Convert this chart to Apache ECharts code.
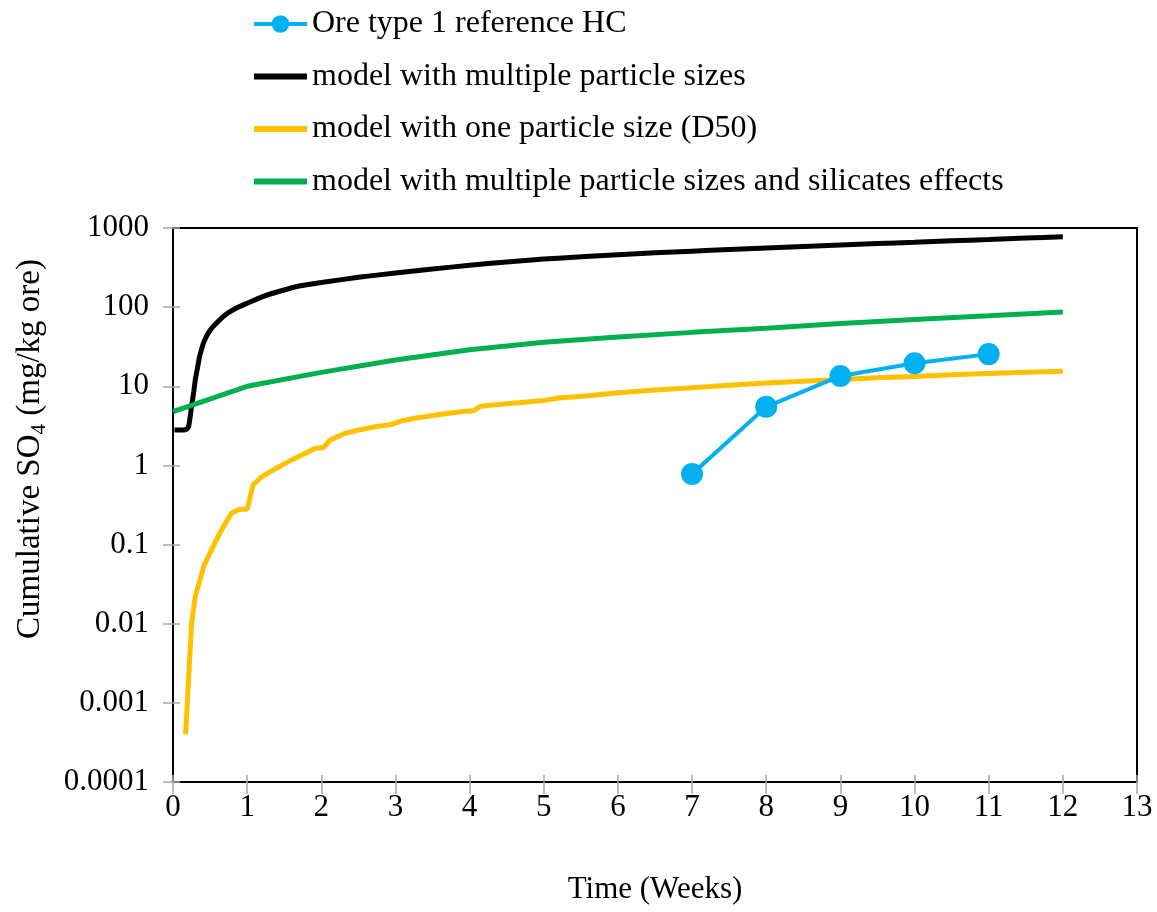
<!DOCTYPE html>
<html>
<head>
<meta charset="utf-8">
<title>Cumulative SO4</title>
<script src="https://cdn.jsdelivr.net/npm/echarts@6/dist/echarts.min.js"></script>
<style>
  html, body { margin: 0; padding: 0; background: #fff; }
  #chart { width: 1157px; height: 912px; }
</style>
</head>
<body>
<div id="chart"></div>
<script>
// Measured leachate: ore type 1 reference humidity cell
const oreWeeks = [7, 8, 9, 10, 11];
const oreValues = [0.78, 5.5, 13.5, 19.5, 25.5];

// Model with multiple particle sizes
const multiWeeks = [0.02, 0.14, 0.19, 0.21, 0.23, 0.25, 0.28, 0.3, 0.33, 0.36, 0.42, 0.5, 0.6, 0.72, 0.85, 1.0, 1.2, 1.45, 1.7, 2.0, 2.5, 3.0, 3.5, 4.0, 4.5, 5.0, 5.5, 6.0, 6.5, 7.0, 7.5, 8.0, 8.5, 9.0, 9.5, 10.0, 10.5, 11.0, 11.5, 12.0];
const multiValues = [2.8, 2.8, 2.9, 3.1, 4.0, 5.6, 8.5, 12, 17, 24, 37, 51, 65, 82, 97, 112, 135, 160, 185, 205, 238, 270, 303, 338, 372, 405, 432, 460, 485, 510, 535, 560, 585, 610, 635, 660, 690, 715, 745, 775];

// Model with one particle size (D50)
const d50Weeks = [0.17, 0.21, 0.25, 0.3, 0.34, 0.42, 0.54, 0.65, 0.79, 0.9, 1.0, 1.08, 1.2, 1.4, 1.62, 1.8, 1.92, 2.03, 2.12, 2.3, 2.5, 2.75, 2.95, 3.1, 3.3, 3.6, 3.9, 4.05, 4.15, 4.5, 5.0, 5.2, 5.6, 6.0, 6.5, 7.0, 7.5, 8.0, 8.5, 9.0, 9.5, 10.0, 10.5, 11.0, 11.5, 12.0];
const d50Values = [0.0004, 0.002, 0.01, 0.022, 0.03, 0.055, 0.094, 0.15, 0.25, 0.28, 0.28, 0.57, 0.72, 0.93, 1.2, 1.45, 1.65, 1.68, 2.1, 2.5, 2.8, 3.1, 3.3, 3.7, 4.0, 4.4, 4.8, 4.9, 5.6, 6.0, 6.6, 7.1, 7.6, 8.3, 9.0, 9.6, 10.3, 11.0, 11.6, 12.2, 12.8, 13.3, 14.0, 14.5, 15.0, 15.5];

// Model with multiple particle sizes and silicates effects
const silWeeks = [0, 1, 2, 3, 4, 5, 6, 7, 8, 9, 10, 11, 12];
const silValues = [4.8, 10, 15, 21.5, 29, 36, 42, 48, 54, 62, 70, 78, 87];

// Axis tick labels (log decades from 0.0001 to 1000)
const yTickLabels = ['0.0001', '0.001', '0.01', '0.1', '1', '10', '100', '1000'];

const seriesNames = [
  'Ore type 1 reference HC',
  'model with multiple particle sizes',
  'model with one particle size (D50)',
  'model with multiple particle sizes and silicates effects'
];

const pairs = (xs, ys) => xs.map((x, i) => [x, ys[i]]);

const FONT = '"Liberation Serif", "DejaVu Serif", serif';
const chart = echarts.init(document.getElementById('chart'), null, { renderer: 'canvas' });

const tickColor = '#a6a6a6';
const yLabel = v => {
  const k = Math.round(Math.log10(v)) + 4;
  return yTickLabels[k] !== undefined ? yTickLabels[k] : '';
};

// plain thick bar used as the legend key of the model curves
const barIcon = 'path://M0,0H53V6H0Z';

chart.setOption({
  backgroundColor: '#fff',
  animation: false,
  textStyle: { fontFamily: FONT, color: '#000' },
  legend: {
    orient: 'vertical',
    left: 252,
    top: 8,
    padding: 0,
    itemWidth: 53,
    itemHeight: 22,
    itemGap: 20.5,
    symbolKeepAspect: true,
    data: [
      { name: seriesNames[0], lineStyle: { width: 4 } },
      { name: seriesNames[1], icon: barIcon },
      { name: seriesNames[2], icon: barIcon },
      { name: seriesNames[3], icon: barIcon }
    ],
    textStyle: { fontFamily: FONT, fontSize: 32, color: '#000', lineHeight: 32 }
  },
  grid: {
    left: 173, top: 228, right: 20, bottom: 130,
    show: true, borderColor: '#000', borderWidth: 2, backgroundColor: 'transparent'
  },
  xAxis: [{
    type: 'value', min: 0, max: 13, interval: 1,
    name: 'Time (Weeks)', nameLocation: 'middle', nameGap: 92,
    nameTextStyle: { fontFamily: FONT, fontSize: 31, color: '#000' },
    axisLine: { show: true, onZero: false, lineStyle: { color: '#000', width: 2 } },
    axisTick: { show: true, inside: false, length: 12, lineStyle: { color: tickColor, width: 1.5 } },
    axisLabel: { fontFamily: FONT, fontSize: 31, color: '#000', margin: 10 },
    splitLine: { show: false }
  }, {
    type: 'value', min: 0, max: 13, interval: 1, position: 'bottom',
    axisLine: { show: false },
    axisTick: { show: true, inside: true, length: 7, lineStyle: { color: tickColor, width: 1.5 } },
    axisLabel: { show: false },
    splitLine: { show: false }
  }],
  yAxis: [{
    type: 'log', logBase: 10, min: 0.0001, max: 1000,
    axisLine: { show: true, onZero: false, lineStyle: { color: '#000', width: 2 } },
    axisTick: { show: true, inside: false, length: 10, lineStyle: { color: tickColor, width: 1.5 } },
    axisLabel: { fontFamily: FONT, fontSize: 31, color: '#000', margin: 24, formatter: yLabel },
    splitLine: { show: false },
    minorTick: { show: false }
  }, {
    type: 'log', logBase: 10, min: 0.0001, max: 1000, position: 'left',
    axisLine: { show: false },
    axisTick: { show: true, inside: true, length: 7, lineStyle: { color: tickColor, width: 1.5 } },
    axisLabel: { show: false },
    splitLine: { show: false }
  }],
  graphic: [{
    type: 'text',
    x: 30, y: 449,
    rotation: Math.PI / 2,
    style: {
      text: '{a|Cumulative SO}{s|4}{a| (mg/kg ore)}',
      align: 'center',
      verticalAlign: 'middle',
      rich: {
        a: { fontFamily: FONT, fontSize: 33, fill: '#000' },
        s: { fontFamily: FONT, fontSize: 21, fill: '#000', padding: [18, 0, 0, 0] }
      }
    }
  }],
  series: [{
    name: seriesNames[1], type: 'line', data: pairs(multiWeeks, multiValues),
    smooth: 0.2, showSymbol: false, symbol: 'none',
    lineStyle: { color: '#000', width: 5 }, itemStyle: { color: '#000' }, z: 3
  }, {
    name: seriesNames[2], type: 'line', data: pairs(d50Weeks, d50Values),
    showSymbol: false, symbol: 'none',
    lineStyle: { color: '#FFC000', width: 5 }, itemStyle: { color: '#FFC000' }, z: 3
  }, {
    name: seriesNames[3], type: 'line', data: pairs(silWeeks, silValues),
    showSymbol: false, symbol: 'none',
    lineStyle: { color: '#00B050', width: 5 }, itemStyle: { color: '#00B050' }, z: 3
  }, {
    name: seriesNames[0], type: 'line', data: pairs(oreWeeks, oreValues),
    symbol: 'circle', symbolSize: 22,
    lineStyle: { color: '#00B0F0', width: 4 }, itemStyle: { color: '#00B0F0' }, z: 4
  }]
});
</script>
</body>
</html>
